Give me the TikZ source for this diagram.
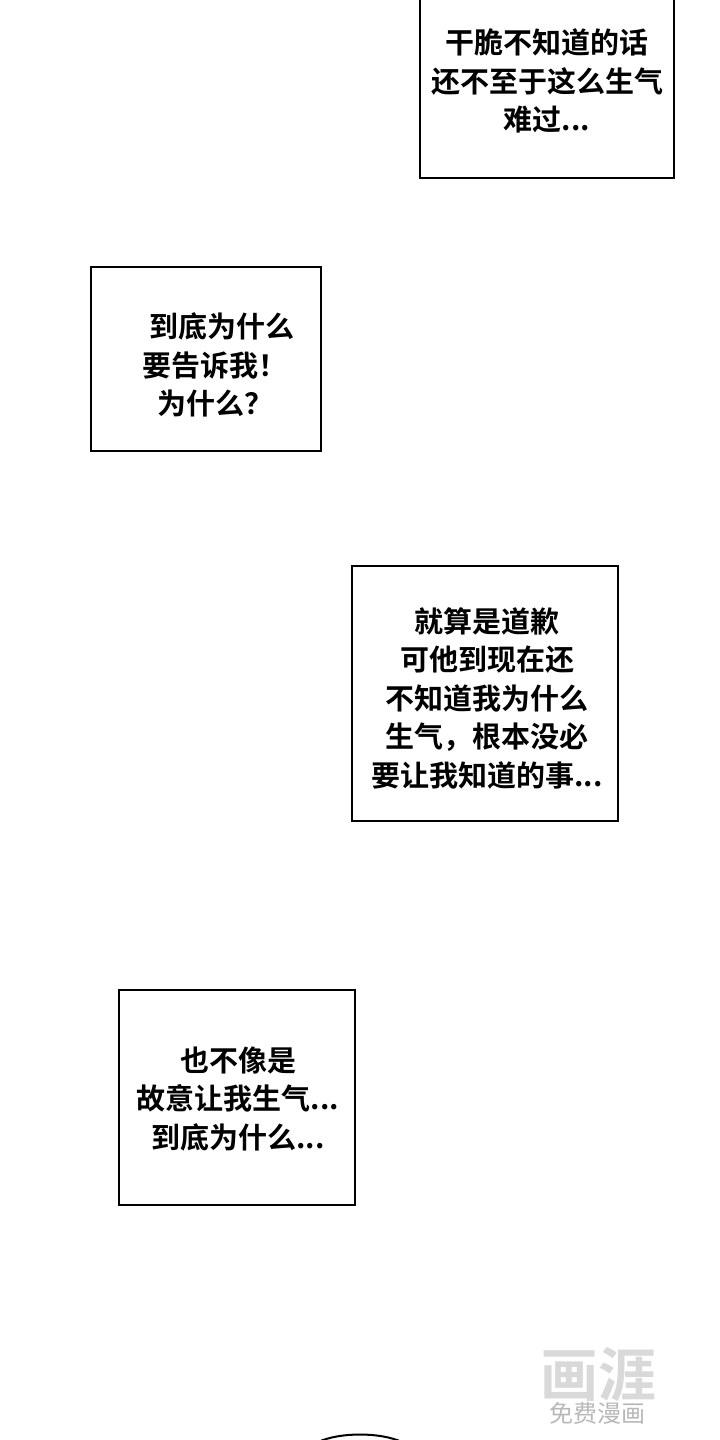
\documentclass[tikz,border=0pt]{standalone}
\usepackage{fontspec}
\newfontfamily\cjk{Noto Sans CJK SC}[BoldFont={* Bold}]
\tikzset{box/.style={draw=black,line width=2pt,fill=white,inner sep=0pt},
txt/.style={font=\cjk\bfseries\fontsize{29}{38.5}\selectfont,align=center,text=black}}
\begin{document}
\begin{tikzpicture}[x=1pt,y=-1pt]
\useasboundingbox (0,0) rectangle (720,1440);
\fill[white] (0,0) rectangle (720,1440);
\draw[line width=2pt] (420,-5) rectangle (674,178) coordinate (b1);
\node[txt] (t1) at (547,81) {干脆不知道的话\\还不至于这么生气\\难过...};
\draw[line width=2pt] (91,267) rectangle (321,451);
\node[txt] (t2) at (215,365) {\,\,\,到底为什么\\要告诉我！\\为什么？};
\draw[line width=2pt] (352,566) rectangle (618,821);
\node[txt] (t3) at (487,698) {就算是道歉\\可他到现在还\\不知道我为什么\\生气，根本没必\\要让我知道的事...};
\draw[line width=2pt] (119,990) rectangle (355,1205);
\node[txt] (t4) at (238,1099) {也不像是\\故意让我生气...\\到底为什么...};
\node[font=\cjk\bfseries\fontsize{58}{58}\selectfont,text=black!15] (w1) at (598,1375) {画涯};
\node[font=\cjk\fontsize{24}{24}\selectfont,text=black!28] (w2) at (597,1413) {免费漫画};
\draw[line width=2pt] (318,1442) .. controls (340,1432) and (380,1432) .. (402,1442);
\end{tikzpicture}
\end{document}
